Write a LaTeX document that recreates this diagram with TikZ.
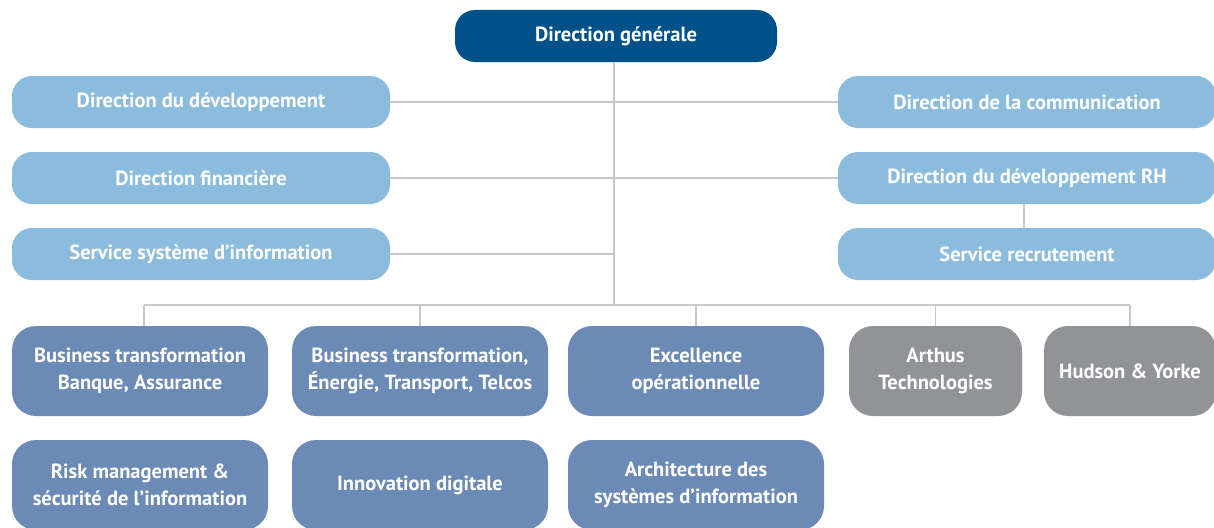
\documentclass[tikz,border=0pt]{standalone}
\usepackage{fontspec}
\setmainfont{PT Sans}
\definecolor{dgblue}{HTML}{00508A}
\definecolor{lblue}{HTML}{8BBCDE}
\definecolor{mblue}{HTML}{6B8AB5}
\definecolor{gbox}{HTML}{929396}
\definecolor{lgrey}{HTML}{C8C8C8}
\begin{document}
\begin{tikzpicture}[x=1pt,y=-1pt,
  base/.style={text=white, font=\fontsize{20.5}{27}\selectfont\bfseries, inner sep=0pt, align=center},
  topbox/.style={base, fill=dgblue, rounded corners=20pt, minimum width=322pt, minimum height=52pt},
  sidebox/.style={base, fill=lblue, rounded corners=20pt, minimum width=378pt, minimum height=52pt},
  unitbox/.style={base, fill=mblue, rounded corners=24pt, minimum width=256pt, minimum height=90pt},
  greybox/.style={base, fill=gbox, rounded corners=24pt, minimum height=90pt},
  link/.style={draw=lgrey, line width=1.5pt}]
\useasboundingbox (0,0) rectangle (1214,527);
\node[topbox] (dg) at (616,36) {Direction générale};
\node[sidebox] (dd) at (201,102) {Direction du développement};
\node[sidebox] (df) at (201,178) {Direction financière};
\node[sidebox] (ssi) at (201,254) {Service système d’information};
\node[sidebox] (dc) at (1027,102) {Direction de la communication};
\node[sidebox] (drh) at (1027,178) {Direction du développement RH};
\node[sidebox] (sr) at (1027,254) {Service recrutement};
\node[unitbox] (b1) at (140,371) {Business transformation\\Banque, Assurance};
\node[unitbox] (b2) at (420,371) {Business transformation,\\Énergie, Transport, Telcos};
\node[unitbox] (b3) at (696,371) {Excellence\\opérationnelle};
\node[greybox, minimum width=173pt] (b4) at (935.5,371) {Arthus\\Technologies};
\node[greybox, minimum width=172pt] (b5) at (1130,371) {Hudson \& Yorke};
\node[unitbox] (c1) at (140,485) {Risk management \&\\sécurité de l’information};
\node[unitbox] (c2) at (420,485) {Innovation digitale};
\node[unitbox] (c3) at (696,485) {Architecture des\\systèmes d’information};
\coordinate (bus) at (614,305);
\coordinate (busL) at (144,305);
\coordinate (busR) at (1130,305);
\begin{scope}[on background layer/.try]
\draw[link] (dg.south -| bus) -- (bus);
\draw[link] (dd.east) -- (dc.west);
\draw[link] (df.east) -- (drh.west);
\draw[link] (ssi.east) -- (ssi.east -| bus);
\draw[link] (drh.south -| 1024,0) -- (sr.north -| 1024,0);
\draw[link] (busL) -- (busR);
\draw[link] (busL) -- (b1.north -| busL);
\draw[link] (b2.north |- bus) -- (b2.north);
\draw[link] (b3.north |- bus) -- (b3.north);
\draw[link] (b4.north |- bus) -- (b4.north);
\draw[link] (busR) -- (b5.north -| busR);
\end{scope}
\end{tikzpicture}
\end{document}
